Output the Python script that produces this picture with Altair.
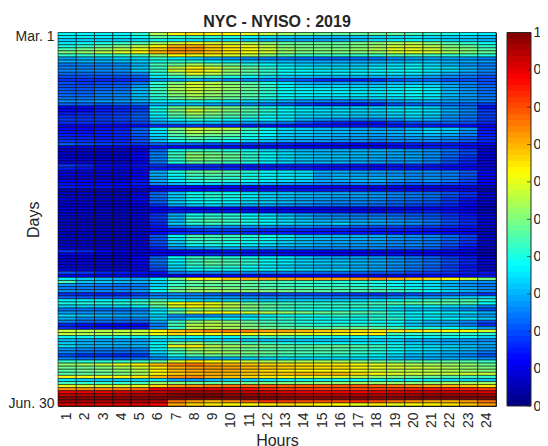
import altair as alt
import pandas as pd

hours = list(range(1, 25))
rows = [
[37,37,37,37,42,55,64,65,64,63,60,57,53,50,48,47,47,48,47,44,42,40,38,36],
[36,36,36,36,38,46,42,42,41,40,37,35,33,32,31,31,32,33,34,35,34,33,33,31],
[33,33,33,33,34,38,36,35,34,34,32,30,29,28,28,29,31,34,36,37,35,33,32,30],
[36,38,40,42,45,52,57,60,58,56,54,51,47,47,47,47,49,51,54,55,50,45,42,38],
[40,43,46,50,55,63,70,71,67,64,61,56,50,49,48,48,50,53,57,58,55,50,47,42],
[45,49,52,56,61,68,73,73,68,65,62,58,52,50,50,50,52,55,60,60,58,52,50,45],
[50,52,55,59,63,70,73,72,68,65,62,58,52,50,50,50,50,52,58,60,58,53,50,47],
[42,42,42,43,45,52,62,60,60,58,55,50,45,42,42,42,42,42,45,45,43,42,42,40],
[28,30,31,33,34,42,36,33,29,27,26,25,24,23,22,22,23,24,26,28,28,28,27,25],
[30,30,30,31,33,40,42,42,37,35,33,32,31,30,29,29,29,29,30,31,32,30,29,28],
[24,25,25,26,30,44,48,54,50,47,42,38,35,33,32,32,32,33,35,36,34,30,27,25],
[25,25,26,27,32,43,55,62,58,52,47,42,38,36,35,34,34,36,36,38,36,34,30,26],
[26,26,26,27,33,43,58,65,60,52,47,42,38,37,36,36,36,37,38,38,36,34,30,26],
[23,23,23,24,27,40,50,60,56,50,45,42,38,37,36,36,36,36,36,36,34,30,27,24],
[20,20,20,20,22,36,42,46,43,40,37,34,32,31,30,30,30,30,30,30,28,26,24,20],
[17,17,16,16,18,27,28,30,28,25,25,24,22,20,16,15,15,16,20,22,22,20,20,20],
[20,18,19,20,24,42,50,58,55,50,45,40,35,30,28,28,28,28,30,30,30,27,25,20],
[20,20,21,22,28,42,53,58,55,52,47,42,37,34,33,34,33,33,35,36,34,30,26,23],
[21,21,22,23,30,44,54,58,55,52,48,43,38,37,36,36,35,35,36,38,36,30,27,23],
[22,22,24,25,31,43,52,56,53,50,46,42,38,37,37,37,36,36,37,38,36,31,27,23],
[23,23,25,26,31,42,50,54,52,49,46,41,37,37,36,36,36,36,37,38,36,31,28,24],
[24,24,25,26,31,41,48,52,50,47,44,40,37,35,34,34,33,34,35,36,35,30,28,25],
[27,27,28,28,30,37,38,40,38,36,34,32,29,26,25,24,24,25,28,30,30,28,26,24],
[22,22,21,22,24,30,30,31,28,27,26,24,22,19,16,16,15,16,20,22,23,23,22,18],
[12,13,15,16,18,38,48,52,50,48,44,40,37,35,33,33,33,33,34,35,33,28,25,14],
[13,13,15,16,19,40,50,58,54,50,46,42,38,36,35,35,34,34,36,36,35,30,26,18],
[15,16,17,18,21,38,47,54,50,47,44,40,37,35,34,34,33,33,34,36,34,29,25,19],
[17,17,18,19,22,36,44,48,46,44,42,38,36,34,33,33,32,32,33,34,32,27,24,18],
[18,18,18,19,21,32,38,42,40,38,36,37,35,30,27,26,25,25,27,30,30,26,23,18],
[17,17,17,17,19,28,30,33,32,29,28,27,24,20,17,15,14,14,17,20,21,22,20,16],
[12,12,12,12,13,16,17,18,17,16,15,14,14,14,14,14,14,14,14,15,15,14,13,11],
[13,13,14,15,22,36,50,58,56,56,44,39,34,33,31,30,29,28,28,30,33,33,28,14],
[14,14,15,16,22,35,48,55,53,50,42,38,34,33,31,31,30,30,30,32,34,32,26,15],
[15,15,15,16,21,34,45,50,48,46,40,37,33,32,31,30,29,28,29,30,31,29,25,15],
[16,16,15,16,20,32,42,46,44,42,38,35,32,31,30,29,28,27,27,28,28,26,22,16],
[18,17,16,16,20,31,38,41,39,37,34,32,29,28,27,26,26,25,26,26,26,24,21,16],
[22,20,19,18,18,22,22,22,20,19,18,17,16,15,14,14,13,13,14,15,15,15,14,13],
[10,10,10,10,11,14,13,13,13,13,13,13,13,12,12,11,11,11,13,14,15,15,13,8],
[8,8,8,8,10,22,38,42,42,40,37,34,32,30,30,30,30,30,29,28,27,24,19,9],
[9,8,8,8,12,25,43,50,48,46,42,38,35,32,31,31,31,30,29,28,27,23,20,10],
[9,8,8,8,13,26,44,52,50,48,42,38,35,33,32,32,31,30,29,29,27,23,18,9],
[9,9,8,8,12,25,42,50,48,46,42,37,34,32,31,31,30,29,28,28,26,21,17,9],
[10,9,8,8,12,24,40,46,45,43,40,36,33,31,30,30,29,28,27,27,25,20,16,9],
[18,16,13,13,14,17,16,17,16,15,15,15,15,15,14,14,14,13,14,15,14,14,13,10],
[15,14,12,11,12,15,16,16,16,16,15,15,15,15,14,14,14,13,14,14,14,13,12,9],
[9,9,8,8,11,29,40,46,48,45,41,38,36,35,29,29,28,28,27,27,27,25,21,13],
[10,9,9,9,12,30,38,44,45,44,39,37,36,35,29,30,29,28,27,26,26,25,21,12],
[8,8,7,7,11,28,36,42,43,42,40,37,36,35,29,31,30,30,29,27,27,25,20,11],
[12,12,11,10,14,29,36,41,43,41,38,36,34,33,29,29,30,30,27,26,27,24,19,12],
[14,13,13,13,15,26,30,34,33,31,30,29,27,26,25,24,25,25,22,21,21,19,17,12],
[15,14,14,13,13,13,14,13,13,13,13,13,13,13,12,12,12,11,11,11,11,10,10,7],
[6,6,6,6,7,10,14,14,14,14,14,14,14,14,14,14,14,13,13,12,11,11,9,5],
[7,7,6,6,9,22,32,38,40,38,35,33,32,30,29,29,28,27,25,24,23,21,17,8],
[7,7,6,6,11,24,33,40,42,40,37,34,32,31,30,29,29,28,26,25,24,20,17,8],
[10,9,8,8,13,22,32,37,39,38,35,33,31,29,28,27,27,26,24,23,22,18,14,8],
[9,9,8,8,12,22,33,37,38,37,34,33,31,29,27,26,26,25,23,22,21,18,14,9],
[8,8,7,7,9,17,28,32,33,31,29,28,26,25,23,23,23,22,21,19,18,16,13,7],
[10,9,8,8,8,12,14,13,13,13,13,13,12,11,11,10,11,11,11,12,13,13,11,6],
[9,8,7,7,8,12,15,15,15,15,14,13,13,12,11,12,12,12,14,15,16,14,11,6],
[8,8,7,7,9,17,30,39,41,41,37,34,31,28,26,25,24,23,22,21,20,17,14,8],
[8,7,7,7,9,18,30,40,42,41,38,36,33,30,27,26,25,25,24,22,21,18,15,9],
[8,7,7,7,9,17,31,43,45,43,40,37,34,32,30,30,29,29,27,26,24,20,16,9],
[7,7,6,6,8,16,33,41,43,41,39,37,35,33,32,34,30,29,28,27,24,20,17,9],
[7,7,6,6,7,14,23,26,27,26,26,26,24,25,23,22,21,20,19,18,18,16,14,7],
[9,9,8,8,9,13,14,17,18,18,18,16,16,16,15,15,15,15,15,15,14,12,11,7],
[6,6,5,5,6,12,16,17,17,17,16,15,15,14,14,14,14,14,13,13,13,11,10,5],
[7,7,6,6,8,21,37,44,44,43,41,39,36,32,31,31,30,30,28,27,26,23,19,8],
[7,7,6,6,8,20,35,43,43,42,40,38,35,32,31,30,30,29,27,26,25,22,18,8],
[7,7,6,6,8,20,33,41,42,40,38,36,33,31,29,29,28,28,26,25,24,21,17,8],
[9,8,7,7,9,19,31,38,39,38,36,34,32,31,29,28,28,27,26,26,24,20,16,8],
[9,8,8,7,9,16,26,28,30,30,29,28,27,27,26,26,26,26,23,23,22,18,14,7],
[18,16,13,11,10,12,12,13,13,14,14,14,13,13,12,12,12,12,12,12,12,11,10,6],
[12,11,9,8,9,13,13,15,16,16,15,15,14,13,13,12,12,13,13,13,12,11,9,5],
[9,9,8,8,12,22,38,43,42,41,39,37,36,33,30,29,29,28,26,24,22,18,15,8],
[9,9,8,8,13,24,37,43,46,44,42,39,36,33,32,31,30,29,27,25,23,20,16,9],
[10,10,9,8,12,23,36,43,47,45,42,38,36,34,33,33,31,30,28,26,24,20,16,9],
[9,9,8,7,11,21,34,40,42,41,38,36,33,31,30,30,29,28,26,24,22,18,14,8],
[11,10,9,9,11,19,32,37,39,39,37,37,36,34,33,34,31,29,27,24,22,19,15,8],
[20,18,16,15,14,14,24,26,26,26,26,25,25,24,23,23,22,21,21,19,18,17,15,14],
[11,11,10,10,10,10,10,11,13,13,13,13,12,12,12,12,12,11,11,12,13,13,13,14],
[36,33,31,30,29,36,50,62,64,68,70,71,71,71,71,71,72,73,70,68,66,63,58,50],
[44,32,32,31,30,34,42,48,50,49,47,45,44,43,42,41,41,40,37,36,35,31,28,27],
[27,26,25,24,25,33,43,45,46,47,46,44,43,42,42,42,41,40,38,36,35,30,27,24],
[25,25,24,24,25,36,46,50,50,49,47,46,45,45,44,44,43,42,40,38,36,32,29,26],
[27,26,26,26,28,38,49,53,54,53,52,50,49,47,46,45,45,45,43,41,38,34,30,26],
[17,16,15,15,18,24,26,25,22,20,20,19,20,19,19,18,18,17,19,20,21,22,21,17],
[22,21,21,21,23,27,27,27,27,27,26,26,26,26,25,25,24,24,26,28,28,31,33,33],
[37,37,37,37,40,44,38,34,33,33,33,33,33,33,33,33,34,36,38,41,43,45,45,41],
[40,41,41,42,44,50,62,64,60,55,48,45,44,43,42,42,42,44,46,47,47,46,45,38],
[33,33,33,34,37,46,58,62,60,56,51,47,44,42,42,43,43,42,39,37,37,35,32,25],
[24,24,23,23,25,34,42,50,52,50,47,44,42,40,38,38,37,36,33,31,31,28,26,20],
[28,27,27,26,27,36,48,59,62,61,58,56,53,50,48,47,46,45,40,37,38,36,35,30],
[34,32,31,30,30,33,27,26,27,30,33,36,38,38,40,42,40,40,39,36,35,33,30,28],
[30,26,26,25,25,33,29,34,36,36,37,40,42,40,38,39,39,42,42,37,37,37,36,33],
[26,23,23,22,22,29,42,50,53,50,47,44,42,40,39,38,38,38,37,33,30,29,26,20],
[16,14,13,12,13,25,45,55,56,54,50,46,44,42,41,41,41,41,37,32,30,29,25,17],
[17,15,14,14,15,26,42,55,55,53,50,48,46,46,45,47,48,46,44,40,40,38,34,28],
[57,55,55,56,57,63,69,72,75,76,75,72,72,70,68,67,66,65,65,65,64,63,62,58],
[57,55,55,55,56,61,66,62,63,64,63,62,60,60,60,61,63,64,44,42,42,42,42,41],
[38,38,38,38,38,41,41,38,37,38,42,43,43,41,39,38,38,37,38,38,37,38,38,34],
[31,29,28,28,28,33,33,32,33,32,31,31,30,31,31,31,33,32,32,29,29,28,27,26],
[33,30,30,30,30,37,49,53,48,47,44,42,40,39,38,38,37,37,36,33,31,30,29,29],
[35,31,31,30,31,38,61,63,56,54,51,49,47,46,47,48,46,44,40,36,35,34,32,29],
[27,26,25,25,25,36,46,54,52,50,47,45,44,44,45,45,43,41,38,36,35,33,31,28],
[26,23,23,22,23,34,44,50,54,53,50,48,46,45,45,45,43,41,37,34,32,30,28,24],
[20,17,17,16,18,30,40,45,47,47,46,45,43,42,41,41,40,37,34,31,31,29,26,21],
[26,24,24,23,24,26,30,29,29,30,33,34,34,34,34,34,34,34,32,30,29,29,29,27],
[42,41,41,42,43,47,58,65,62,60,57,54,53,54,54,53,51,48,46,46,45,46,45,43],
[52,54,56,60,64,69,74,76,72,70,68,67,66,65,64,64,62,60,58,55,54,53,52,48],
[48,48,50,53,57,64,70,72,72,71,69,68,67,66,65,65,63,60,58,57,56,54,52,50],
[46,48,49,51,55,63,69,71,71,70,68,66,64,63,62,62,60,58,56,56,55,54,52,50],
[45,46,47,49,53,62,67,69,70,69,68,67,68,70,70,70,66,63,60,58,57,57,58,57],
[63,62,62,62,64,69,73,74,70,68,66,64,62,60,59,59,56,52,50,48,47,45,44,42],
[35,33,32,32,33,35,28,27,30,32,33,35,36,36,36,37,37,37,36,36,35,34,33,32],
[44,42,42,42,44,52,50,48,47,47,48,49,50,50,51,51,52,52,52,51,51,53,53,53],
[60,58,58,58,60,66,72,73,75,76,77,78,78,78,78,78,78,78,76,74,72,70,68,64],
[73,74,74,75,77,89,90,91,90,89,86,84,82,82,81,81,81,82,83,84,85,85,84,82],
[88,89,89,90,91,93,95,96,96,94,92,91,90,89,88,88,88,89,90,91,92,92,91,90],
[93,93,93,94,95,96,99,100,100,98,97,96,95,94,94,94,94,94,95,96,97,97,97,96],
[98,98,98,98,99,100,100,100,100,100,100,100,99,99,99,99,99,98,99,100,100,100,100,100],
[96,95,95,95,95,94,76,72,69,73,78,83,82,80,80,80,83,80,76,73,71,70,72,76],
[91,91,90,90,90,88,71,66,64,62,62,64,66,65,63,62,60,64,60,62,63,65,68,72],
]
assert len(rows) == 122 and all(len(r) == 24 for r in rows)
jet = ["#00007f","#0000ff","#007fff","#00ffff","#7fff7f","#ffff00","#ff7f00","#ff0000","#7f0000"]
bar_ticks = [i / 10 for i in range(11)]

INK = "#262626"
FONT = "Liberation Sans"
W, H = 438, 373.5
cells = pd.DataFrame(
    [{"day": d + 1, "hour": h, "v": rows[d][h - 1] / 100} for d in range(122) for h in hours]
)
color_scale = alt.Scale(domain=[i / 8 for i in range(9)], range=jet, interpolate="rgb")

heat = (
    alt.Chart(cells)
    .mark_rect(stroke="#000000", strokeWidth=0.8, strokeOpacity=0.7)
    .encode(
        x=alt.X("hour:O", scale=alt.Scale(paddingInner=0, paddingOuter=0),
                axis=alt.Axis(title="Hours", labelAngle=270, labelFontSize=14, titleFontSize=16,
                              labelBaseline="middle", labelAlign="right",
                              tickSize=0, labelPadding=6, titleY=39, titleBaseline="alphabetic", domain=False,
                              labelColor=INK, titleColor=INK, labelFont=FONT, titleFont=FONT,
                              titleFontWeight="normal")),
        y=alt.Y("day:O", scale=alt.Scale(paddingInner=0, paddingOuter=0),
                axis=alt.Axis(title="Days", values=[2, 122],
                              labelExpr="datum.value == 2 ? 'Mar. 1' : 'Jun. 30'",
                              labelFontSize=14, titleFontSize=16, tickSize=0, labelPadding=4,
                              titleX=-17, titleBaseline="bottom", domain=False, labelColor=INK, titleColor=INK,
                              labelFont=FONT, titleFont=FONT, titleFontWeight="normal")),
        color=alt.Color("v:Q", scale=color_scale, legend=None),
    )
)

levels = [i / 64 for i in range(64)]
bar_df = pd.DataFrame({
    "lo": levels,
    "hi": [min(1, l + 1.6 / 64) for l in levels],
    "mid": [l + 1 / 128 for l in levels],
})
bar_y = alt.Scale(domain=[0, 1], nice=False)
bar_axis = alt.Axis(orient="right", values=bar_ticks, format="~g", tickSize=0, title=None,
                    labelFontSize=14, labelColor=INK, labelFont=FONT, domain=False,
                    labelPadding=2, grid=False, offset=35)
bar_rect = (
    alt.Chart(bar_df)
    .mark_rect()
    .encode(
        y=alt.Y("lo:Q", scale=bar_y, axis=bar_axis),
        y2="hi:Q",
        x=alt.value(449),
        x2=alt.value(473),
        color=alt.Color("mid:Q", scale=color_scale, legend=None),
    )
)
bar_tick = (
    alt.Chart(pd.DataFrame({"t": bar_ticks}))
    .mark_rule(color=INK, strokeWidth=0.7)
    .encode(y=alt.Y("t:Q", scale=bar_y, axis=bar_axis), x=alt.value(469), x2=alt.value(473))
)
bar_box = (
    alt.Chart(pd.DataFrame({"box": [0]}))
    .mark_rect(fillOpacity=0, stroke=INK, strokeWidth=1)
    .encode(x=alt.value(449), x2=alt.value(473), y=alt.value(0), y2=alt.value(H))
)
chart = (
    alt.layer(heat, bar_rect + bar_tick + bar_box)
    .resolve_scale(y="independent", x="independent")
    .properties(
        width=W, height=H,
        autosize=alt.AutoSizeParams(type="none"),
        padding={"left": 50, "top": 24.5, "right": 44, "bottom": 40},
        title=alt.TitleParams("NYC - NYISO : 2019", font=FONT, fontSize=16, fontWeight="bold",
                              color=INK, offset=6, dy=10, anchor="middle"),
    )
    .configure_view(stroke=INK, strokeWidth=1)
)
chart.save("out.html", embed_options={"renderer": "svg", "actions": False})
